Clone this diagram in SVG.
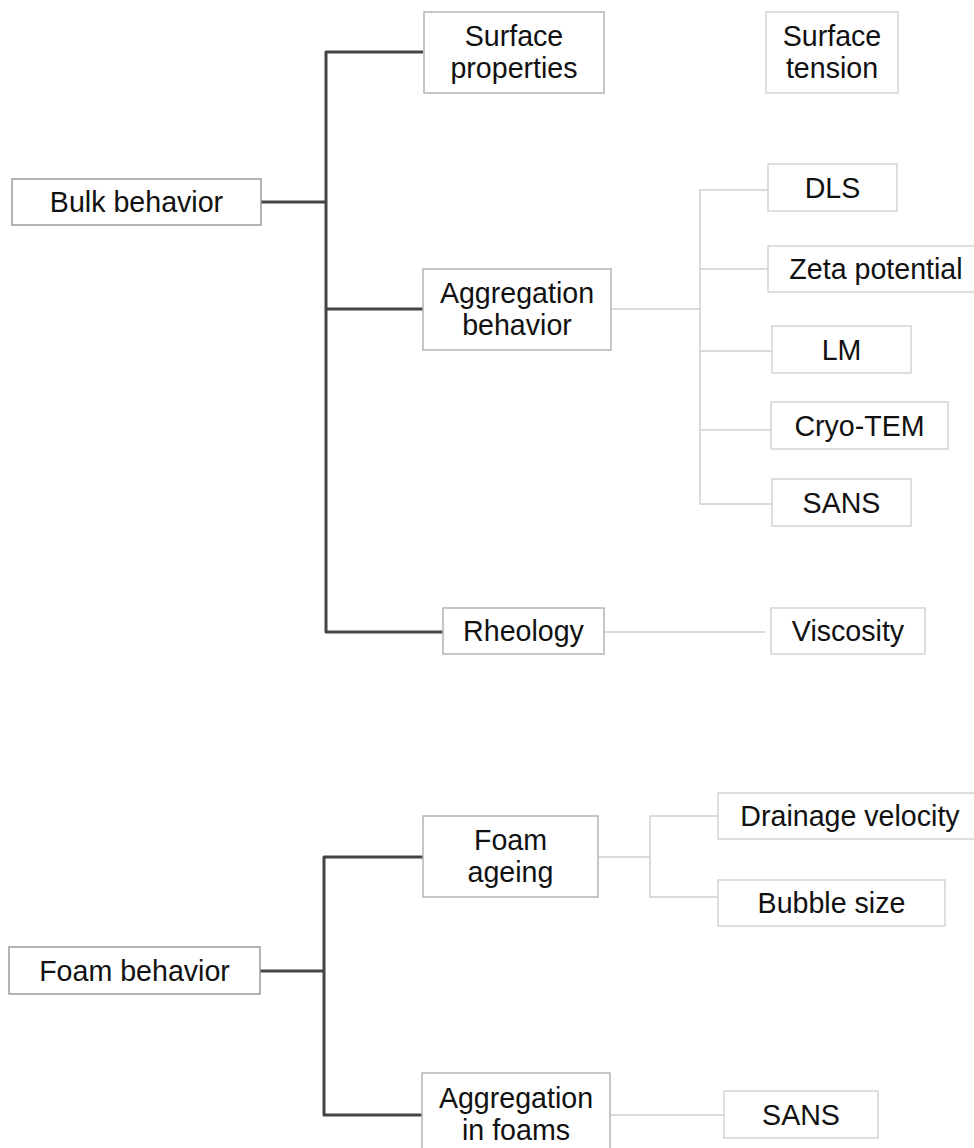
<svg xmlns="http://www.w3.org/2000/svg" width="974" height="1148" viewBox="0 0 974 1148">
  <style>
    text { font-family: "Liberation Sans", Arial, sans-serif; font-size: 28.6px; fill: #111; text-anchor: middle; }
    .root { fill: #fff; stroke: #9a9a9a; stroke-width: 1.5; }
    .mid { fill: #fff; stroke: #b4b4b4; stroke-width: 1.5; }
    .leaf { fill: #fff; stroke: #d4d4d4; stroke-width: 1.5; }
    .trunk { fill: none; stroke: #444; stroke-width: 3; stroke-linejoin: round; }
    .twig { fill: none; stroke: #cfcfcf; stroke-width: 1.5; }
  </style>
  <rect width="974" height="1148" fill="#fff"/>

  <!-- connectors -->
  <g id="connectors">
    <path class="trunk" d="M261,202 H326 M423,52 H326 V632 H443 M326,309 H423"/>
    <path class="trunk" d="M260,971 H324 M423,857 H324 V1115 H423"/>
    <path class="twig" d="M611,309 H700 M768,190 H700 V504 H772 M700,269 H768 M700,351 H772 M700,430 H771"/>
    <path class="twig" d="M604,632 H765"/>
    <path class="twig" d="M598,857 H650 M718,816 H650 V897 H718"/>
    <path class="twig" d="M610,1115 H724"/>
  </g>

  <!-- bulk branch -->
  <g id="bulk-behavior">
    <rect class="root" x="12" y="179" width="249" height="46"/>
    <text x="136.5" y="212">Bulk behavior</text>
  </g>
  <g id="surface-properties">
    <rect class="mid" x="424" y="12" width="180" height="81"/>
    <text x="514" y="46">Surface</text>
    <text x="514" y="78">properties</text>
  </g>
  <g id="surface-tension">
    <rect class="leaf" x="766" y="12" width="132" height="81"/>
    <text x="832" y="46">Surface</text>
    <text x="832" y="78">tension</text>
  </g>
  <g id="aggregation-behavior">
    <rect class="mid" x="423" y="269" width="188" height="81"/>
    <text x="517" y="303">Aggregation</text>
    <text x="517" y="335">behavior</text>
  </g>
  <g id="dls">
    <rect class="leaf" x="768" y="164" width="129" height="47"/>
    <text x="832.5" y="197.5">DLS</text>
  </g>
  <g id="zeta-potential">
    <rect class="leaf" x="768" y="246" width="216" height="46"/>
    <text x="876" y="279">Zeta potential</text>
  </g>
  <g id="lm">
    <rect class="leaf" x="772" y="326" width="139" height="47"/>
    <text x="841.5" y="359.5">LM</text>
  </g>
  <g id="cryo-tem">
    <rect class="leaf" x="771" y="402" width="177" height="47"/>
    <text x="859.5" y="435.5">Cryo-TEM</text>
  </g>
  <g id="sans-bulk">
    <rect class="leaf" x="772" y="479" width="139" height="47"/>
    <text x="841.5" y="512.5">SANS</text>
  </g>
  <g id="rheology">
    <rect class="mid" x="443" y="608" width="161" height="46"/>
    <text x="523.5" y="641">Rheology</text>
  </g>
  <g id="viscosity">
    <rect class="leaf" x="771" y="608" width="154" height="46"/>
    <text x="848" y="641">Viscosity</text>
  </g>

  <!-- foam branch -->
  <g id="foam-behavior">
    <rect class="root" x="9" y="947" width="251" height="47"/>
    <text x="134.5" y="980.5">Foam behavior</text>
  </g>
  <g id="foam-ageing">
    <rect class="mid" x="423" y="816" width="175" height="81"/>
    <text x="510.5" y="850">Foam</text>
    <text x="510.5" y="882">ageing</text>
  </g>
  <g id="drainage-velocity">
    <rect class="leaf" x="718" y="793" width="264" height="46"/>
    <text x="850" y="826">Drainage velocity</text>
  </g>
  <g id="bubble-size">
    <rect class="leaf" x="718" y="880" width="227" height="46"/>
    <text x="831.5" y="913">Bubble size</text>
  </g>
  <g id="aggregation-in-foams">
    <rect class="mid" x="422" y="1073" width="188" height="81"/>
    <text x="516" y="1108">Aggregation</text>
    <text x="516" y="1140">in foams</text>
  </g>
  <g id="sans-foam">
    <rect class="leaf" x="724" y="1091" width="154" height="47"/>
    <text x="801" y="1124.5">SANS</text>
  </g>
</svg>
